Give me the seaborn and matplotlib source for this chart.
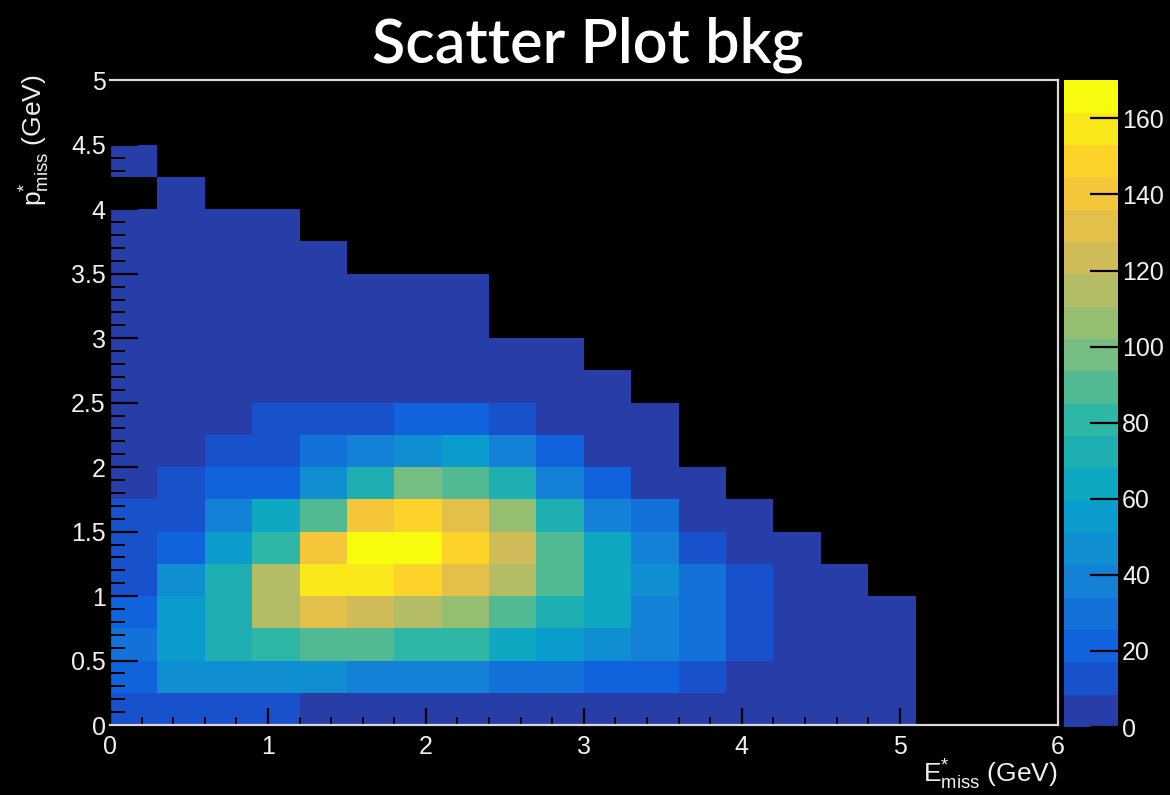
import numpy as np
import pandas as pd
import matplotlib
matplotlib.use("Agg")
import matplotlib.pyplot as plt
import seaborn as sns
from matplotlib.colors import LinearSegmentedColormap, ListedColormap
from matplotlib.ticker import MultipleLocator, FormatStrFormatter

# ---------------- data (bin contents) ----------------
title = "Scatter Plot bkg"
x_range = (0.0, 6.0)   # E*_miss (GeV), 20 bins of 0.3
y_range = (0.0, 5.0)   # p*_miss (GeV), 20 bins of 0.25
n_xbins = 20
n_ybins = 20
z_max = 170
cbar_ticks = [0, 20, 40, 60, 80, 100, 120, 140, 160]

# one list per p*_miss bin (bottom to top), 20 E*_miss bins each
counts_p00 = [13, 13, 13, 13, 4, 4, 4, 4, 4, 4, 4, 4, 4, 4, 4, 4, 4, 0, 0, 0]
counts_p01 = [21, 47, 45, 44, 43, 40, 39, 38, 31, 31, 24, 22, 14, 4, 4, 4, 4, 0, 0, 0]
counts_p02 = [30, 55, 72, 80, 89, 89, 80, 80, 64, 55, 47, 38, 30, 13, 4, 4, 4, 0, 0, 0]
counts_p03 = [21, 55, 72, 115, 132, 123, 115, 106, 89, 74, 64, 38, 30, 13, 4, 4, 4, 0, 0, 0]
counts_p04 = [13, 45, 72, 115, 157, 157, 149, 132, 115, 89, 64, 47, 30, 13, 4, 4, 0, 0, 0, 0]
counts_p05 = [13, 21, 55, 80, 140, 166, 166, 149, 126, 89, 64, 38, 13, 4, 4, 0, 0, 0, 0, 0]
counts_p06 = [13, 13, 38, 62, 89, 140, 149, 132, 106, 72, 38, 26, 4, 4, 0, 0, 0, 0, 0, 0]
counts_p07 = [4, 13, 21, 21, 47, 72, 98, 89, 74, 42, 21, 4, 4, 0, 0, 0, 0, 0, 0, 0]
counts_p08 = [4, 4, 13, 15, 28, 40, 47, 55, 38, 21, 4, 4, 0, 0, 0, 0, 0, 0, 0, 0]
counts_p09 = [4, 4, 4, 15, 15, 15, 22, 22, 15, 4, 4, 4, 0, 0, 0, 0, 0, 0, 0, 0]
counts_p10 = [4, 4, 4, 4, 4, 4, 4, 4, 4, 4, 4, 0, 0, 0, 0, 0, 0, 0, 0, 0]
counts_p11 = [4, 4, 4, 4, 4, 4, 4, 4, 4, 4, 0, 0, 0, 0, 0, 0, 0, 0, 0, 0]
counts_p12 = [4, 4, 4, 4, 4, 4, 4, 4, 0, 0, 0, 0, 0, 0, 0, 0, 0, 0, 0, 0]
counts_p13 = [4, 4, 4, 4, 4, 4, 4, 4, 0, 0, 0, 0, 0, 0, 0, 0, 0, 0, 0, 0]
counts_p14 = [4, 4, 4, 4, 4, 0, 0, 0, 0, 0, 0, 0, 0, 0, 0, 0, 0, 0, 0, 0]
counts_p15 = [4, 4, 4, 4, 0, 0, 0, 0, 0, 0, 0, 0, 0, 0, 0, 0, 0, 0, 0, 0]
counts_p16 = [0, 4, 0, 0, 0, 0, 0, 0, 0, 0, 0, 0, 0, 0, 0, 0, 0, 0, 0, 0]
counts_p17 = [4, 0, 0, 0, 0, 0, 0, 0, 0, 0, 0, 0, 0, 0, 0, 0, 0, 0, 0, 0]
counts_p18 = [0] * 20
counts_p19 = [0] * 20

rows = [counts_p00, counts_p01, counts_p02, counts_p03, counts_p04,
        counts_p05, counts_p06, counts_p07, counts_p08, counts_p09,
        counts_p10, counts_p11, counts_p12, counts_p13, counts_p14,
        counts_p15, counts_p16, counts_p17, counts_p18, counts_p19]

# long-form table: one row per bin, placed at the bin centre
x_edges = np.linspace(*x_range, n_xbins + 1)
y_edges = np.linspace(*y_range, n_ybins + 1)
x_cent = 0.5 * (x_edges[:-1] + x_edges[1:])
y_cent = 0.5 * (y_edges[:-1] + y_edges[1:])
XX, YY = np.meshgrid(x_cent, y_cent)
df = pd.DataFrame({"E": XX.ravel(), "p": YY.ravel(),
                   "w": np.array(rows, dtype=float).ravel()})

# ---------------- ROOT kBird palette, 20 contour levels ----------------
stops = [0.0, 0.125, 0.25, 0.375, 0.5, 0.625, 0.75, 0.875, 1.0]
red = [0.2082, 0.0592, 0.0780, 0.0232, 0.1802, 0.5301, 0.8186, 0.9956, 0.9764]
green = [0.1664, 0.3599, 0.5041, 0.6419, 0.7178, 0.7492, 0.7328, 0.7862, 0.9832]
blue = [0.5293, 0.8684, 0.8385, 0.7914, 0.6425, 0.4662, 0.3499, 0.1968, 0.0539]
bird = LinearSegmentedColormap.from_list(
    "bird", list(zip(stops, zip(red, green, blue))))
n_lev = 20
bird20 = ListedColormap([bird(min((i + 0.99) / n_lev, 1.0)) for i in range(n_lev)])

# ---------------- figure ----------------
sns.set_style("dark")
plt.rcParams["font.family"] = ["Liberation Sans", "DejaVu Sans"]
plt.rcParams["mathtext.fontset"] = "custom"
plt.rcParams["mathtext.rm"] = "Liberation Sans"
plt.rcParams["mathtext.it"] = "Liberation Sans"
plt.rcParams["axes.axisbelow"] = False

fig = plt.figure(figsize=(11.7, 7.95), dpi=100, facecolor="black")
ax = fig.add_axes([0.094, 0.088, 0.810, 0.811], facecolor="black")
cax = fig.add_axes([0.9094, 0.0855, 0.0462, 0.8135], facecolor="black")

sns.histplot(data=df, x="E", y="p", weights="w", bins=n_xbins,
             binrange=(x_range, y_range), cmap=bird20, vmin=0, vmax=z_max,
             cbar=True, cbar_ax=cax, ax=ax)

ax.set_axisbelow(False)
cax.set_axisbelow(False)
ax.set_xlim(*x_range)
ax.set_ylim(*y_range)
ax.grid(False)
ax.set_xlabel("")
ax.set_ylabel("")

# axes ticks (ROOT style: inside, black)
ax.xaxis.set_major_locator(MultipleLocator(1))
ax.xaxis.set_minor_locator(MultipleLocator(0.2))
ax.yaxis.set_major_locator(MultipleLocator(0.5))
ax.yaxis.set_minor_locator(MultipleLocator(0.1))
ax.yaxis.set_major_formatter(FormatStrFormatter("%g"))
ax.xaxis.set_major_formatter(FormatStrFormatter("%g"))
ax.tick_params(axis="x", which="major", direction="in", length=12.5, width=1.6,
               color="black", labelcolor="#f0f0f0", labelsize=18, pad=7,
               bottom=True, top=False)
ax.tick_params(axis="x", which="minor", direction="in", length=5.5, width=1.4,
               color="black", bottom=True, top=False)
ax.tick_params(axis="y", which="major", direction="in", length=20.5, width=1.6,
               color="black", labelcolor="#f0f0f0", labelsize=18, pad=3,
               left=True, right=False)
ax.tick_params(axis="y", which="minor", direction="in", length=10.5, width=1.4,
               color="black", left=True, right=False)

for side in ["top", "right", "bottom"]:
    ax.spines[side].set_visible(True)
    ax.spines[side].set_color("#d8d8d8")
    ax.spines[side].set_linewidth(1.6)
    ax.spines[side].set_zorder(3)
ax.spines["left"].set_visible(True)
ax.spines["left"].set_color("black")
ax.spines["left"].set_linewidth(1.6)

# colour bar
cbar = ax.collections[0].colorbar
cbar.set_ticks(cbar_ticks)
cbar.outline.set_visible(False)
cax.tick_params(axis="y", which="major", direction="in", length=20, width=1.6,
                color="black", labelcolor="#f0f0f0", labelsize=18, pad=3,
                right=True, left=False)
cax.tick_params(axis="y", which="minor", length=0)

# texts
fig.text(0.5026, 0.922, title, color="white", fontsize=44, ha="center",
         va="baseline", family=["Lato", "DejaVu Sans"], fontweight="semibold")
fig.text(1058 / 1170, 0.016, r"$\mathrm{E}^{*}_{\mathrm{miss}}$ (GeV)",
         color="#f0f0f0", fontsize=19, ha="right", va="baseline")
fig.text(35 / 1170, 0.906, r"$\mathrm{p}^{*}_{\mathrm{miss}}$ (GeV)",
         color="#f0f0f0", fontsize=19, ha="center", va="top", rotation=90)

fig.savefig("out.png", dpi=100, facecolor="black")
